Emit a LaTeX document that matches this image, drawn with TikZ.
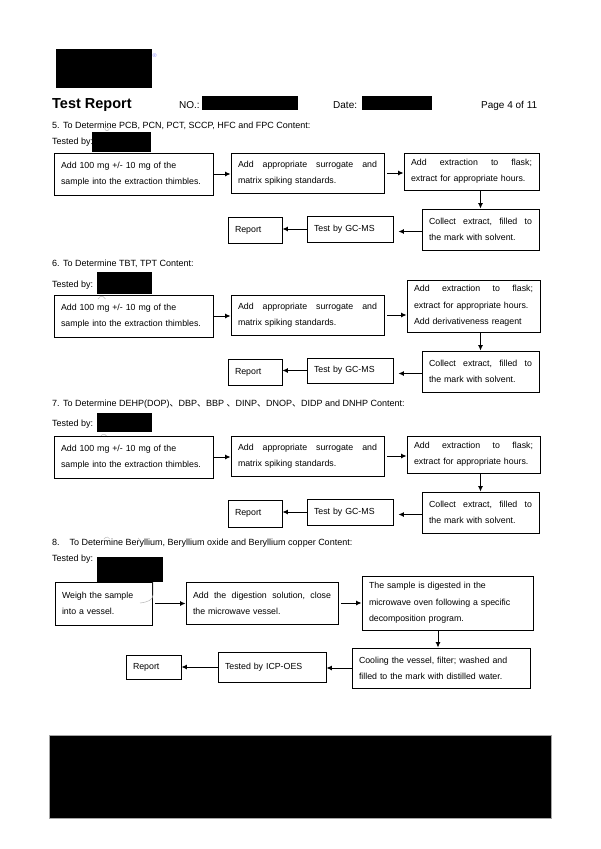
\documentclass[tikz,border=0pt]{standalone}
\usepackage{fontspec}
\setmainfont{Liberation Sans}
\newfontfamily\cjkfont{Noto Sans CJK SC}
\usetikzlibrary{arrows.meta,calc}
\tikzset{
  box/.style={draw=black, line width=0.9pt, inner xsep=7pt, inner ysep=0pt, align=left,
    font=\fontsize{8.8}{16.3}\selectfont, anchor=center},
  arr/.style={line width=0.9pt, -{Latex[length=5.5pt,width=5pt]}},
  redact/.style={fill=black, draw=none},
  txt/.style={anchor=base west, inner sep=0pt, font=\fontsize{9}{11}\selectfont},
  hdr/.style={anchor=base west, inner sep=0pt, font=\fontsize{10}{12}\selectfont},
  smudge/.style={draw=gray!55, line width=0.5pt}
}
\newcommand\flowbox[6]{%
  \pgfmathsetmacro\fbw{#4-#2}%
  \pgfmathsetmacro\fbh{#5-#3}%
  \pgfmathsetmacro\fbt{#4-#2-14}%
  \pgfmathsetmacro\fbx{(#2+#4)/2}%
  \pgfmathsetmacro\fby{(#3+#5)/2}%
  \node[box, minimum width=\fbw pt, minimum height=\fbh pt, text width=\fbt pt] (#1) at (\fbx,\fby) {#6};%
}
\begin{document}
\begin{tikzpicture}[x=1pt,y=-1pt]
\useasboundingbox[fill=white] (0,0) rectangle (600,849);

% ---------- header ----------
\fill[redact] (56,49) rectangle (152,88);
\node[anchor=base west, inner sep=0pt, font=\fontsize{5.5}{6}\selectfont, text=blue!45] (reg) at (152.5,57) {®};
\node[anchor=base west, inner sep=0pt, font=\bfseries\fontsize{14.5}{16}\selectfont] (title) at (52,108) {Test Report};
\node[hdr] (no) at (179,108) {NO.:};
\fill[redact] (202,96) rectangle (298,110);
\node[hdr] (date) at (333,108) {Date:};
\fill[redact] (362,96) rectangle (432,110);
\node[hdr] (page) at (481,108) {Page 4 of 11};

% ---------- section 5 ----------
\node[txt] (h5) at (52,128) {5. To Determine PCB, PCN, PCT, SCCP, HFC and FPC Content:};
\node[txt] (t5) at (52,144) {Tested by:};
\fill[redact] (92,132) rectangle (151,152);
\draw[smudge] (107,128.5) circle (2.2);

\flowbox{A5}{54}{153}{213}{195}{Add 100 mg +/- 10 mg of the\\sample into the extraction thimbles.}
\flowbox{B5}{231}{153}{384}{193}{Add\hfill appropriate\hfill surrogate\hfill and\\matrix spiking standards.}
\flowbox{C5}{404}{153}{539}{190}{Add\hfill extraction\hfill to\hfill flask;\\extract for appropriate hours.}
\flowbox{D5}{422}{209}{539}{250}{Collect\hfill extract,\hfill filled\hfill to\\the mark with solvent.}
\flowbox{E5}{307}{216}{393}{242}{Test by GC-MS}
\flowbox{F5}{228}{217}{282}{243}{Report}
\draw[arr] (A5.east) -- (A5.east -| B5.west);
\draw[arr] ([xshift=3pt]B5.east) -- (B5.east -| C5.west);
\draw[arr] (C5.south -| D5.north) -- (D5.north);
\draw[arr] ([yshift=-2pt]D5.west) -- ([xshift=5pt,yshift=-2pt]D5.west -| E5.east);
\draw[arr] (E5.west) -- (E5.west -| F5.east);

% ---------- section 6 ----------
\node[txt] (h6) at (52,266) {6. To Determine TBT, TPT Content:};
\node[txt] (t6) at (52,287) {Tested by:};
\fill[redact] (97,272) rectangle (152,294);
\draw[smudge] (98,299) arc (200:340:4);

\flowbox{A6}{54}{295}{213}{337}{Add 100 mg +/- 10 mg of the\\sample into the extraction thimbles.}
\flowbox{B6}{231}{295}{384}{335}{Add\hfill appropriate\hfill surrogate\hfill and\\matrix spiking standards.}
\flowbox{C6}{407}{280}{540}{332}{Add\hfill extraction\hfill to\hfill flask;\\extract for appropriate hours.\\Add derivativeness reagent}
\flowbox{D6}{422}{351}{539}{392}{Collect\hfill extract,\hfill filled\hfill to\\the mark with solvent.}
\flowbox{E6}{307}{358}{393}{383}{Test by GC-MS}
\flowbox{F6}{228}{359}{282}{385}{Report}
\draw[arr] (A6.east) -- (A6.east -| B6.west);
\draw[arr] ([xshift=3pt]B6.east) -- (B6.east -| C6.west);
\draw[arr] (C6.south -| D6.north) -- (D6.north);
\draw[arr] ([yshift=-2pt]D6.west) -- ([xshift=5pt,yshift=-2pt]D6.west -| E6.east);
\draw[arr] (E6.west) -- (E6.west -| F6.east);

% ---------- section 7 ----------
\node[txt] (h7) at (52,406) {7. To Determine DEHP(DOP){\cjkfont 、}DBP{\cjkfont 、}BBP {\cjkfont 、}DINP{\cjkfont 、}DNOP{\cjkfont 、}DIDP and DNHP Content:};
\node[txt] (t7) at (52,426.5) {Tested by:};
\fill[redact] (97,413) rectangle (152,432);
\draw[smudge] (100,437) arc (200:340:4);

\flowbox{A7}{54}{436}{213}{478}{Add 100 mg +/- 10 mg of the\\sample into the extraction thimbles.}
\flowbox{B7}{231}{436}{384}{476}{Add\hfill appropriate\hfill surrogate\hfill and\\matrix spiking standards.}
\flowbox{C7}{407}{436}{540}{473}{Add\hfill extraction\hfill to\hfill flask;\\extract for appropriate hours.}
\flowbox{D7}{422}{492}{539}{533}{Collect\hfill extract,\hfill filled\hfill to\\the mark with solvent.}
\flowbox{E7}{307}{499}{393}{525}{Test by GC-MS}
\flowbox{F7}{228}{500}{282}{527}{Report}
\draw[arr] (A7.east) -- (A7.east -| B7.west);
\draw[arr] ([xshift=3pt]B7.east) -- (B7.east -| C7.west);
\draw[arr] (C7.south -| D7.north) -- (D7.north);
\draw[arr] ([yshift=-2pt]D7.west) -- ([xshift=5pt,yshift=-2pt]D7.west -| E7.east);
\draw[arr] (E7.west) -- (E7.west -| F7.east);

% ---------- section 8 ----------
\node[txt] (h8) at (52,545.5) {8.\hspace{10pt}To Determine Beryllium, Beryllium oxide and Beryllium copper Content:};
\node[txt] (t8) at (52,561) {Tested by:};
\fill[redact] (97,557) rectangle (163,582);
\draw[smudge] (104,539) arc (200:340:3);
\draw[smudge] (138,538) -- (141,541);

\flowbox{A8}{55}{582}{152}{625}{Weigh the sample\\into a vessel.}
\flowbox{B8}{186}{582}{338}{624}{Add\hfill the\hfill digestion\hfill solution,\hfill close\\the microwave vessel.}
\flowbox{C8}{362}{576}{533}{630}{The sample is digested in the\\microwave oven following a specific\\decomposition program.}
\flowbox{D8}{352}{648}{530}{688}{Cooling the vessel, filter; washed and\\filled to the mark with distilled water.}
\flowbox{E8}{218}{652}{326}{682}{Tested by ICP-OES}
\flowbox{F8}{126}{655}{181}{679}{Report}
\draw[smudge] (153,582) -- (153,595) .. controls (153,600) and (148,602) .. (140,603);
\draw[arr] ([xshift=3pt]A8.east) -- (A8.east -| B8.west);
\draw[arr] ([xshift=3pt]B8.east) -- (B8.east -| C8.west);
\draw[arr] ([xshift=-3pt]C8.south -| D8.north) -- ([xshift=-3pt]D8.north);
\draw[arr] (D8.west) -- (D8.west -| E8.east);
\draw[arr] (E8.west) -- (E8.west -| F8.east);

% ---------- footer ----------
\fill[black, draw=gray!70, line width=0.6pt] (49,735) rectangle (551,818);
\end{tikzpicture}
\end{document}
